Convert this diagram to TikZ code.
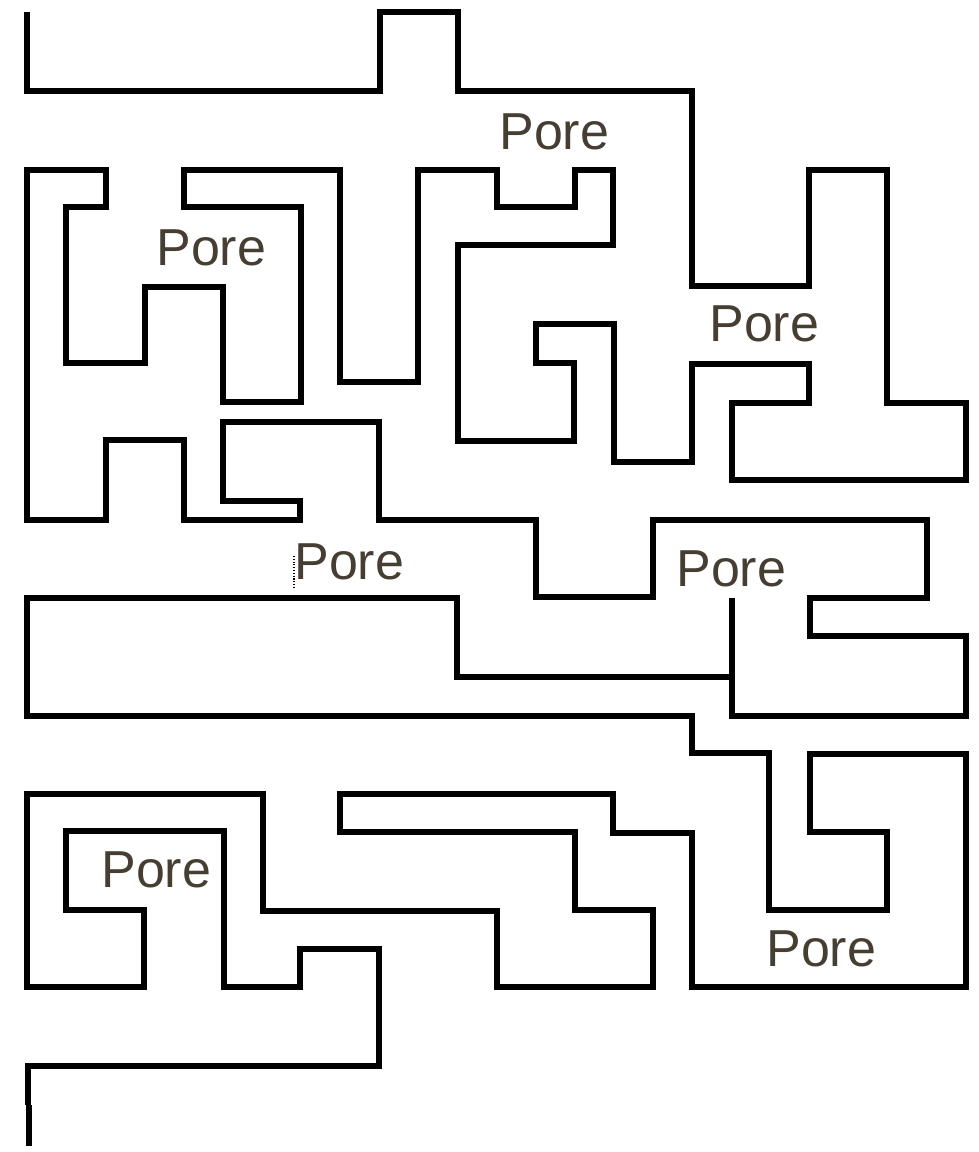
\documentclass[tikz,border=0pt]{standalone}
\usepackage{fontspec}
\setmainfont{Liberation Sans}
\definecolor{poregray}{RGB}{70,62,50}
\tikzset{
  wall/.style={line width=0.13cm,line join=miter},
  porelabel/.style={anchor=base west,inner sep=0pt,text=poregray,font=\fontsize{29.6}{35}\selectfont},
  gapmark/.style={densely dotted,line width=0.6pt}
}

\begin{document}
\begin{tikzpicture}[x=0.02cm,y=-0.02cm]
\useasboundingbox (0,0) rectangle (979,1152);

% upper wall
\draw[wall] (27,12) -- (27,91) -- (380,91) -- (380,12) -- (458,12) -- (458,91)
  -- (692,91) -- (692,286) -- (809,286) -- (809,170) -- (887,170) -- (887,403)
  -- (966,403) -- (966,480) -- (732,480) -- (732,403) -- (809,403) -- (809,364)
  -- (692,364) -- (692,462) -- (614,462) -- (614,324) -- (536,324) -- (536,363)
  -- (574,363) -- (574,441) -- (458,441) -- (458,245) -- (613,245) -- (613,170)
  -- (575,170) -- (575,207) -- (497,207) -- (497,170) -- (418,170) -- (418,382)
  -- (340,382) -- (340,170) -- (184,170) -- (184,207) -- (301,207) -- (301,402)
  -- (223,402) -- (223,287) -- (145,287) -- (145,363) -- (66,363) -- (66,207)
  -- (106,207) -- (106,170) -- (27,170) -- (27,520) -- (106,520) -- (106,440)
  -- (184,440) -- (184,520) -- (300,520) -- (300,501) -- (223,501) -- (223,422)
  -- (379,422) -- (379,520) -- (536,520) -- (536,597) -- (653,597) -- (653,520)
  -- (927,520) -- (927,598) -- (810,598) -- (810,636) -- (966,636) -- (966,716)
  -- (732,716) -- (732,598);

% lower wall
\draw[wall] (732,677) -- (457,677) -- (457,598) -- (27,598) -- (27,716)
  -- (692,716) -- (692,753) -- (769,753) -- (769,910) -- (887,910) -- (887,832)
  -- (810,832) -- (810,754) -- (966,754) -- (966,987) -- (692,987) -- (692,833)
  -- (613,833) -- (613,794) -- (340,794) -- (340,832) -- (575,832) -- (575,910)
  -- (653,910) -- (653,987) -- (497,987) -- (497,911) -- (263,911) -- (263,794)
  -- (27,794) -- (27,987) -- (144,987) -- (144,910) -- (66,910) -- (66,831)
  -- (224,831) -- (224,987) -- (300,987) -- (300,949) -- (379,949) -- (379,1066)
  -- (28,1066) -- (28,1105);
\draw[wall] (29,1105) -- (29,1146);

\draw[gapmark] (294,556) -- (294,587);

% pore labels
\node[porelabel] (pore1) at (499,150) {Pore};
\node[porelabel] (pore2) at (156,265) {Pore};
\node[porelabel] (pore3) at (709,341) {Pore};
\node[porelabel] (pore4) at (294,579) {Pore};
\node[porelabel] (pore5) at (676,586) {Pore};
\node[porelabel] (pore6) at (101,887) {Pore};
\node[porelabel] (pore7) at (766,966) {Pore};
\end{tikzpicture}
\end{document}
